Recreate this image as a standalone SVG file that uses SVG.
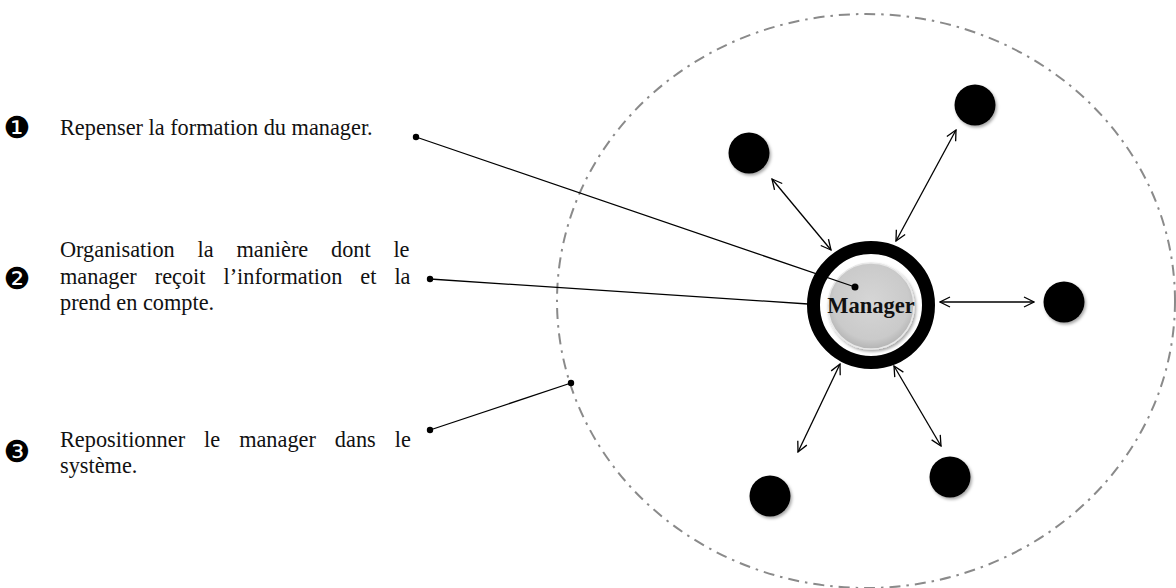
<svg xmlns="http://www.w3.org/2000/svg" width="1176" height="588" viewBox="0 0 1176 588">
<style>
.t{font-family:"Liberation Serif","Times New Roman",serif;font-size:22.3px;fill:#111}
.b{font-family:"DejaVu Sans",sans-serif;font-size:30px;fill:#000;text-anchor:middle}
.lead{stroke:#000;stroke-width:1.3;fill:none}
.arr{stroke:#000;stroke-width:1.3;fill:none;marker-start:url(#ah);marker-end:url(#ah)}
.sat{fill:#000;filter:url(#sh)}
</style>
<defs>
<marker id="ah" viewBox="0 0 12 12" refX="11" refY="6" markerWidth="12" markerHeight="12" markerUnits="userSpaceOnUse" orient="auto-start-reverse">
<path d="M1,1 L11,6 L1,11" fill="none" stroke="#000" stroke-width="1.3"/>
</marker>
<filter id="sh" x="-30%" y="-30%" width="170%" height="170%">
<feDropShadow dx="1.5" dy="2" stdDeviation="1.5" flood-color="#000" flood-opacity="0.35"/>
</filter>
<radialGradient id="g" cx="50%" cy="45%" r="55%">
<stop offset="0" stop-color="#d6d6d6"/>
<stop offset="0.8" stop-color="#cacaca"/>
<stop offset="1" stop-color="#b4b4b4"/>
</radialGradient>
</defs>
<ellipse cx="866" cy="301" rx="309" ry="287" fill="none" stroke="#8a8a8a" stroke-width="2" stroke-dasharray="11 6 2.5 6"/>
<g id="items">
<text class="b" x="17" y="138">❶</text>
<text class="t" x="60" y="135">Repenser la formation du manager.</text>
<text class="b" x="17" y="289">❷</text>
<text class="t" x="60" y="257" word-spacing="17.2">Organisation la manière dont le</text>
<text class="t" x="60" y="284" word-spacing="12.4">manager reçoit l’information et la</text>
<text class="t" x="60" y="310">prend en compte.</text>
<text class="b" x="17" y="462">❸</text>
<text class="t" x="60" y="447" word-spacing="13.4">Repositionner le manager dans le</text>
<text class="t" x="60" y="473">système.</text>
</g>
<g id="manager">
<circle cx="871" cy="305" r="57.5" fill="none" stroke="#000" stroke-width="13"/>
<circle cx="871" cy="306" r="43" fill="url(#g)" stroke="#e8e8e8" stroke-width="1.5" filter="url(#sh)"/>
<text x="871" y="313" text-anchor="middle" font-family="Liberation Serif,serif" font-weight="bold" font-size="22.5" fill="#111">Manager</text>
</g>
<g id="n1"><circle class="sat" cx="749" cy="153" r="20.5"/></g>
<g id="n2"><circle class="sat" cx="975" cy="105" r="20.5"/></g>
<g id="n3"><circle class="sat" cx="1064" cy="302" r="20.5"/></g>
<g id="n4"><circle class="sat" cx="770" cy="496" r="20.5"/></g>
<g id="n5"><circle class="sat" cx="950" cy="477" r="20.5"/></g>
<g id="connectors">
<line class="arr" x1="772" y1="179" x2="831" y2="250"/>
<line class="arr" x1="956" y1="130" x2="896" y2="241"/>
<line class="arr" x1="940" y1="302" x2="1034" y2="302"/>
<line class="arr" x1="840" y1="364" x2="798" y2="452"/>
<line class="arr" x1="894" y1="366" x2="941" y2="446"/>
<line class="lead" x1="416" y1="137" x2="855" y2="287"/>
<circle cx="416" cy="137" r="3.2"/>
<circle cx="855" cy="287" r="3.5"/>
<line class="lead" x1="430" y1="279" x2="808" y2="304"/>
<circle cx="430" cy="279" r="3.2"/>
<line class="lead" x1="430" y1="430" x2="571" y2="383"/>
<circle cx="430" cy="430" r="3.2"/>
<circle cx="571" cy="383" r="3.2"/>
</g>
</svg>
